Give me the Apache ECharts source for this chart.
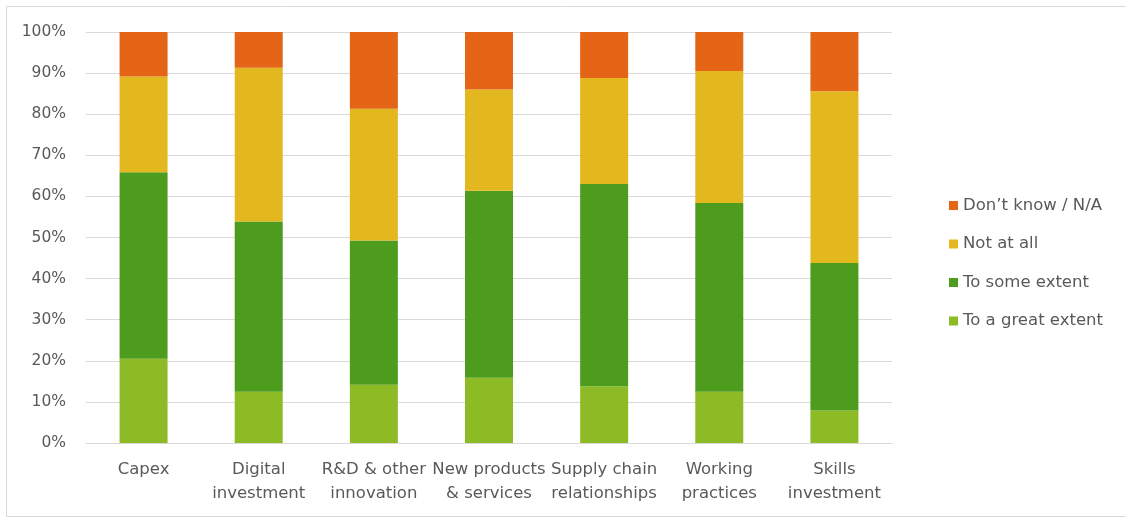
<!DOCTYPE html>
<html>
<head>
<meta charset="utf-8">
<script src="https://cdn.jsdelivr.net/npm/echarts@6/dist/echarts.min.js"></script>
<style>
  html, body { margin: 0; padding: 0; background: #fff; }
  #chart { width: 1126px; height: 519px; }
</style>
</head>
<body>
<div id="chart"></div>
<script>
// Categories (wrapped onto two lines where needed)
const categories = [
  'Capex',
  'Digital\ninvestment',
  'R&D & other\ninnovation',
  'New products\n& services',
  'Supply chain\nrelationships',
  'Working\npractices',
  'Skills\ninvestment'
];

// Share of respondents per answer (percent)
const toGreatExtent = [20.5, 12.5, 14.2, 15.9, 13.8, 12.5, 7.9];
const toSomeExtent  = [45.4, 41.4, 35.1, 45.5, 49.2, 45.9, 35.9];
const notAtAll      = [23.3, 37.4, 32.0, 24.6, 25.8, 32.1, 41.8];
const dontKnow      = [10.8, 8.7, 18.7, 14.0, 11.2, 9.5, 14.4];

const seriesNames = ['To a great extent', 'To some extent', 'Not at all', 'Don\u2019t know / N/A'];
const seriesColors = ['#8DBB25', '#4E9C1E', '#E3B81E', '#E46516'];
const seriesValues = [toGreatExtent, toSomeExtent, notAtAll, dontKnow];

const font = '"DejaVu Sans", "Open Sans", sans-serif';
const textColor = '#595959';

const chart = echarts.init(document.getElementById('chart'), null, { renderer: 'canvas' });

chart.setOption({
  animation: false,
  backgroundColor: '#ffffff',
  textStyle: { fontFamily: font },
  graphic: [{
    // chart frame; right edge runs off the canvas
    type: 'rect',
    shape: { x: 6.5, y: 6.5, width: 1140, height: 510 },
    style: { fill: 'none', stroke: '#d9d9d9', lineWidth: 1 },
    silent: true,
    z: -1
  }],
  grid: { left: 86, right: 234, top: 32, bottom: 76 },
  legend: {
    orient: 'vertical',
    left: 944,
    top: 192,
    itemWidth: 9,
    itemHeight: 9,
    itemGap: 21.5,
    icon: 'rect',
    data: seriesNames.slice().reverse(),
    textStyle: { fontFamily: font, fontSize: 16.5, color: textColor, padding: [0, 0, 0, 0] }
  },
  xAxis: {
    type: 'category',
    data: categories,
    axisLine: { show: true, lineStyle: { color: '#d9d9d9', width: 1 } },
    axisTick: { show: false },
    axisLabel: {
      color: textColor,
      fontFamily: font,
      fontSize: 16.5,
      lineHeight: 24,
      margin: 15,
      interval: 0
    }
  },
  yAxis: {
    type: 'value',
    min: 0,
    max: 100,
    interval: 10,
    axisLine: { show: false },
    axisTick: { show: false },
    splitLine: { lineStyle: { color: '#d9d9d9', width: 1 } },
    axisLabel: {
      formatter: '{value}%',
      color: textColor,
      fontFamily: font,
      fontSize: 15.5,
      margin: 20
    }
  },
  series: seriesNames.map((name, i) => ({
    name: name,
    type: 'bar',
    stack: 'total',
    barWidth: 48,
    data: seriesValues[i],
    itemStyle: { color: seriesColors[i] },
    emphasis: { disabled: true }
  }))
});
</script>
</body>
</html>
